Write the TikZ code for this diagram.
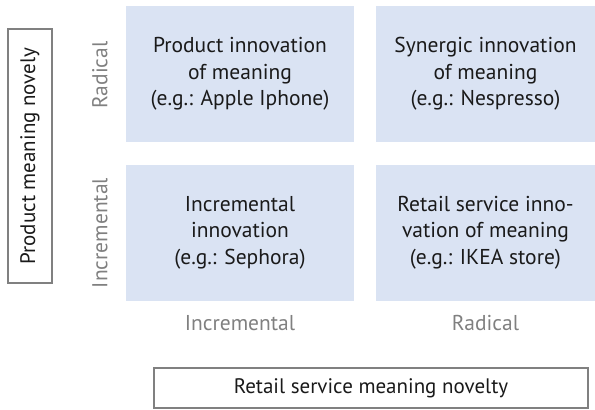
\documentclass[tikz,border=0pt]{standalone}
\usepackage{fontspec}
\setmainfont{PT Sans}
\usetikzlibrary{positioning}
\definecolor{cellblue}{RGB}{218,227,243}
\definecolor{axisgrey}{RGB}{128,128,128}
\definecolor{textdark}{RGB}{26,26,26}
\tikzset{
    cell/.style={fill=cellblue, minimum height=136pt, align=center, text=textdark,
        font=\fontsize{21.5}{26.5}\selectfont},
    level/.style={text=axisgrey, font=\fontsize{21.5}{24}\selectfont},
    axisbox/.style={draw=axisgrey, line width=1.2pt, text=textdark, minimum height=40pt,
        font=\fontsize{21}{24}\selectfont}
}

\begin{document}
\begin{tikzpicture}[x=1pt, y=-1pt]
    \useasboundingbox (0,0) rectangle (595,410);
    % quadrants
    \node[cell, minimum width=228pt] (tl) at (240,74) {Product innovation\\of meaning\\(e.g.: Apple Iphone)};
    \node[cell, minimum width=219pt] (tr) at (485.5,74) {Synergic innovation\\of meaning\\(e.g.: Nespresso)};
    \node[cell, minimum width=228pt] (bl) at (240,232.5) {Incremental\\innovation\\(e.g.: Sephora)};
    \node[cell, minimum width=219pt] (br) at (485.5,232.5) {Retail service inno-\\vation of meaning\\(e.g.: IKEA store)};
    % levels
    \node[level, rotate=90] (yrad) at (100,75) {Radical};
    \node[level, rotate=90] (yinc) at (100,233) {Incremental};
    \node[level] (xinc) at (240,323) {Incremental};
    \node[level] (xrad) at (485.5,323) {Radical};
    % axes
    \node[axisbox, rotate=90, minimum width=254pt, minimum height=44pt] (yaxis) at (30,156) {Product meaning novely};
    \node[axisbox, minimum width=434pt] (xaxis) at (371,388) {Retail service meaning novelty};
\end{tikzpicture}
\end{document}
